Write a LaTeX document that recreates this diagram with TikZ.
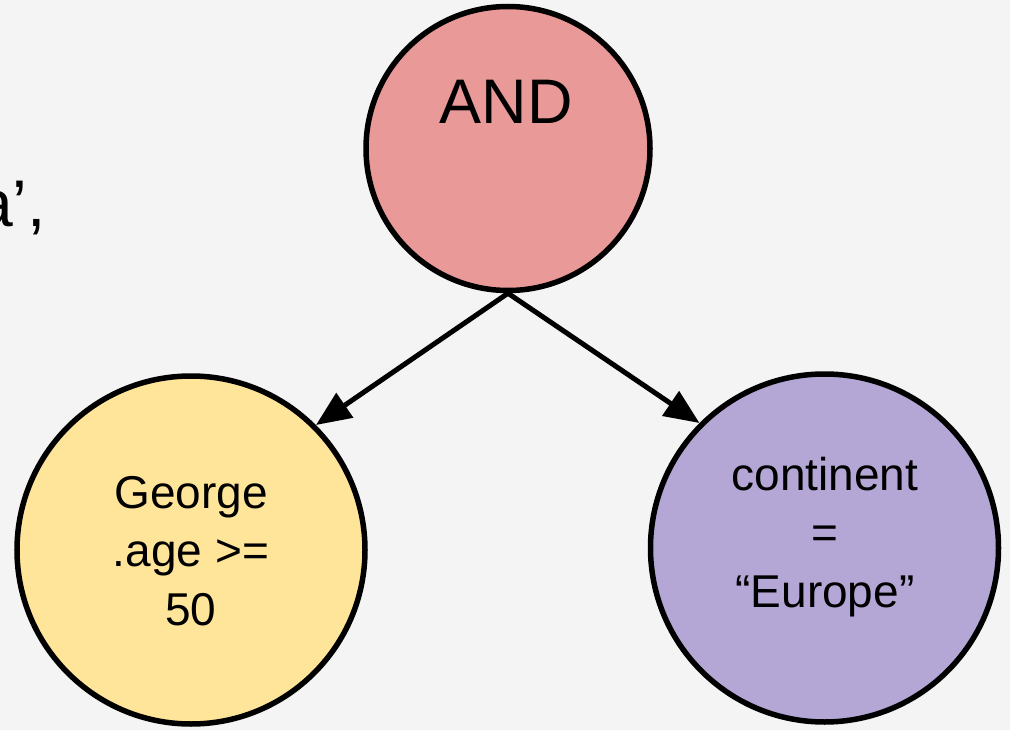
\documentclass[tikz,border=0pt]{standalone}
\usepackage{fontspec}
\setmainfont{Liberation Sans}
\usetikzlibrary{arrows.meta}
\definecolor{bg}{HTML}{F4F4F4}
\definecolor{andfill}{HTML}{EA9999}
\definecolor{agefill}{HTML}{FFE599}
\definecolor{contfill}{HTML}{B4A7D6}
\begin{document}
\begin{tikzpicture}[x=1pt,y=-1pt,
  opnode/.style={circle, draw=black, line width=5.5pt, inner sep=0pt},
  edge/.style={draw=black, line width=5pt, -{Triangle[length=35pt,width=29pt]}},
  lbl/.style={inner sep=0pt, align=center, font=\fontsize{46}{58.5}\selectfont}]
% page frame and background
\fill[bg] (0,0) rectangle (1010,730);
\clip (0,0) rectangle (1010,730);
\useasboundingbox (0,0) rectangle (1010,730);

% trailing piece of a sentence at the left edge
\node[anchor=base east, inner sep=0pt, font=\fontsize{66}{70}\selectfont] (tail) at (46,227) {a’,};

% operator tree
\node[opnode, fill=andfill, minimum size=284pt] (and) at (508,148.5) {};
\node[opnode, fill=agefill, minimum size=348pt] (age) at (191,550) {};
\node[opnode, fill=contfill, minimum size=348pt] (cont) at (824.5,548) {};

\node[anchor=base, inner sep=0pt, font=\fontsize{63}{70}\selectfont] (andtext) at (506,124) {AND};
\node[lbl] (agetext) at (191,551) {George\\.age >=\\50};
\node[lbl] (conttext) at (825,537) {continent\\=\\“Europe”};

\draw[edge] (and.south) -- (age.north east);
\draw[edge] (and.south) -- (cont.north west);
\end{tikzpicture}
\end{document}
